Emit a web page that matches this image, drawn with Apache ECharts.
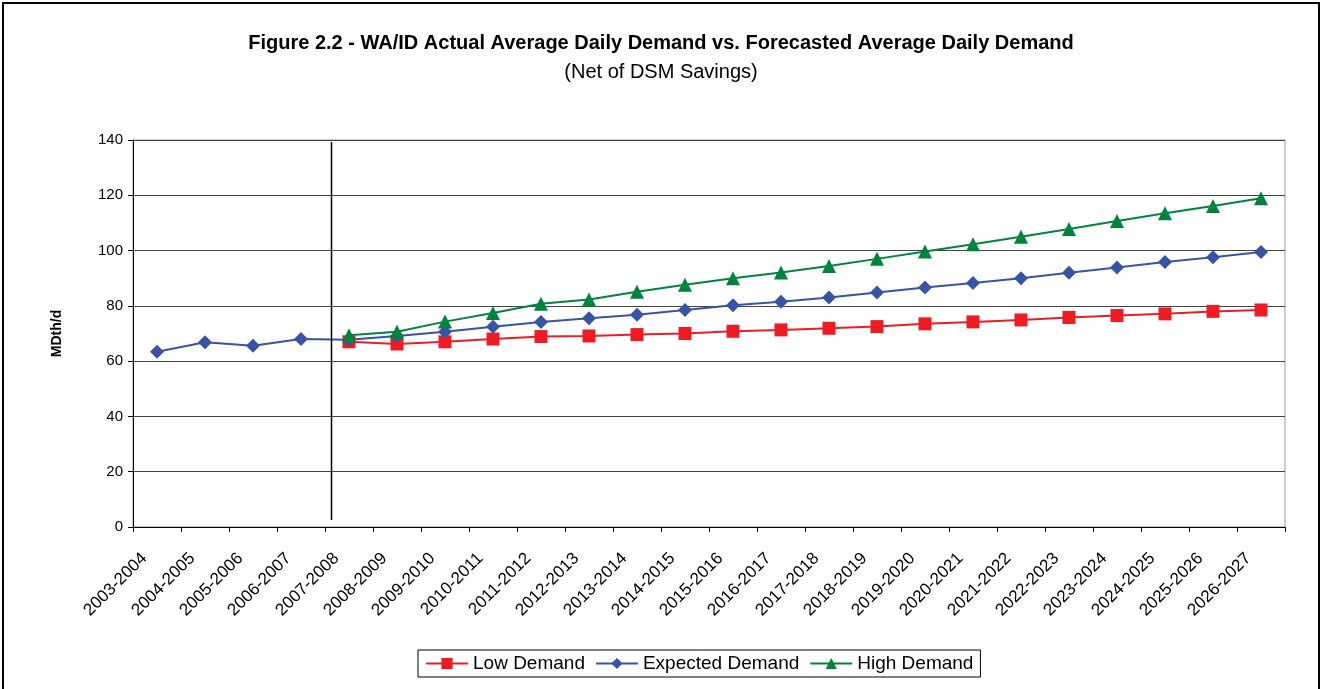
<!DOCTYPE html>
<html>
<head>
<meta charset="utf-8">
<script src="https://cdn.jsdelivr.net/npm/echarts@6/dist/echarts.min.js"></script>
<style>
  html, body { margin: 0; padding: 0; background: #fff; }
  #chart { width: 1322px; height: 689px; }
</style>
</head>
<body>
<div id="chart"></div>
<script>
// seasons on the x axis
const seasons = [
  '2003-2004', '2004-2005', '2005-2006', '2006-2007', '2007-2008', '2008-2009',
  '2009-2010', '2010-2011', '2011-2012', '2012-2013', '2013-2014', '2014-2015',
  '2015-2016', '2016-2017', '2017-2018', '2018-2019', '2019-2020', '2020-2021',
  '2021-2022', '2022-2023', '2023-2024', '2024-2025', '2025-2026', '2026-2027'
]

// MDth/d, forecasts start in 2007-2008
const lowDemand = [
  null, null, null, null, 67.0, 66.2, 67.0, 68.0, 68.9, 69.1, 69.6, 70.0,
  70.8, 71.3, 71.9, 72.5, 73.5, 74.2, 74.9, 75.8, 76.5, 77.1, 78.0, 78.5
]
const expectedDemand = [
  63.4, 66.8, 65.6, 68.0, 67.7, 69.1, 70.6, 72.4, 74.2, 75.5, 76.8, 78.5,
  80.2, 81.5, 83.0, 84.8, 86.6, 88.3, 90.0, 92.0, 93.9, 95.9, 97.6, 99.5
]
const highDemand = [
  null, null, null, null, 69.4, 70.6, 74.3, 77.4, 80.8, 82.3, 85.1, 87.6,
  90.0, 92.1, 94.4, 97.0, 99.7, 102.3, 105.0, 107.8, 110.7, 113.5, 116.1, 118.9
]

const yTicks = { min: 0, max: 140, interval: 20 }

const FONT = '"Liberation Sans", Arial, sans-serif'

const chart = echarts.init(document.getElementById('chart'))

chart.setOption({
  animation: false,
  backgroundColor: '#fff',
  textStyle: { fontFamily: FONT, color: '#000' },
  title: {
    text: 'Figure 2.2 - WA/ID Actual Average Daily Demand vs. Forecasted Average Daily Demand',
    subtext: '(Net of DSM Savings)',
    left: 'center',
    top: 28,
    itemGap: 9,
    textStyle: { fontFamily: FONT, fontSize: 20, fontWeight: 'bold', color: '#000' },
    subtextStyle: { fontFamily: FONT, fontSize: 20, color: '#000' }
  },
  legend: {
    bottom: 12,
    left: 418,
    data: ['Low Demand', 'Expected Demand', 'High Demand'],
    itemWidth: 42,
    itemHeight: 14,
    itemGap: 10,
    padding: [4, 7, 4, 7],
    borderColor: '#000',
    borderWidth: 1,
    borderRadius: 0,
    textStyle: { fontFamily: FONT, fontSize: 19, color: '#000' }
  },
  grid: { left: 133, right: 37, top: 140, bottom: 162, show: true, borderColor: '#999', borderWidth: 1 },
  xAxis: {
    type: 'category',
    data: seasons,
    boundaryGap: true,
    axisLine: { lineStyle: { color: '#000', width: 1 } },
    axisTick: { show: true, length: 5, lineStyle: { color: '#000' } },
    axisLabel: {
      rotate: 45, fontSize: 17, color: '#000', fontFamily: FONT,
      margin: 16, interval: 0, padding: [0, 18, 0, 0]
    },
    splitLine: { show: false }
  },
  yAxis: {
    type: 'value',
    min: yTicks.min,
    max: yTicks.max,
    interval: yTicks.interval,
    name: 'MDth/d',
    nameLocation: 'middle',
    nameGap: 69,
    nameTextStyle: { fontFamily: FONT, fontSize: 14, fontWeight: 'bold', color: '#000' },
    axisLine: { show: true, lineStyle: { color: '#000', width: 1 } },
    axisTick: { show: true, length: 5, lineStyle: { color: '#000' } },
    axisLabel: { fontSize: 15, color: '#000', fontFamily: FONT, margin: 10 },
    splitLine: { lineStyle: { color: '#444', width: 1 } }
  },
  series: [
    {
      name: 'Low Demand',
      type: 'line',
      data: lowDemand,
      symbol: 'rect',
      symbolSize: 13,
      color: '#ED1C24',
      lineStyle: { width: 2 },
      connectNulls: false
    },
    {
      name: 'Expected Demand',
      type: 'line',
      data: expectedDemand,
      symbol: 'diamond',
      symbolSize: 14,
      color: '#3953A4',
      lineStyle: { width: 2 }
    },
    {
      name: 'High Demand',
      type: 'line',
      data: highDemand,
      symbol: 'triangle',
      symbolSize: 14,
      color: '#00843D',
      lineStyle: { width: 2 }
    }
  ]
})

// divider between actuals and forecast, plus the outer frame
function drawExtras() {
  const a = chart.convertToPixel({ xAxisIndex: 0 }, 3)
  const b = chart.convertToPixel({ xAxisIndex: 0 }, 4)
  const x = Math.round(a + (b - a) * 0.625) + 0.5
  const yTop = chart.convertToPixel({ yAxisIndex: 0 }, 139.3)
  const yBot = chart.convertToPixel({ yAxisIndex: 0 }, 2.5)
  chart.setOption({
    graphic: [
      {
        type: 'line',
        shape: { x1: x, y1: yTop, x2: x, y2: yBot },
        style: { stroke: '#000', lineWidth: 1.5 },
        z: 10
      },
      {
        type: 'rect',
        shape: { x: 3, y: 3, width: 1316, height: 700 },
        style: { fill: null, stroke: '#000', lineWidth: 2 },
        silent: true
      }
    ]
  })
}
drawExtras()
</script>
</body>
</html>
